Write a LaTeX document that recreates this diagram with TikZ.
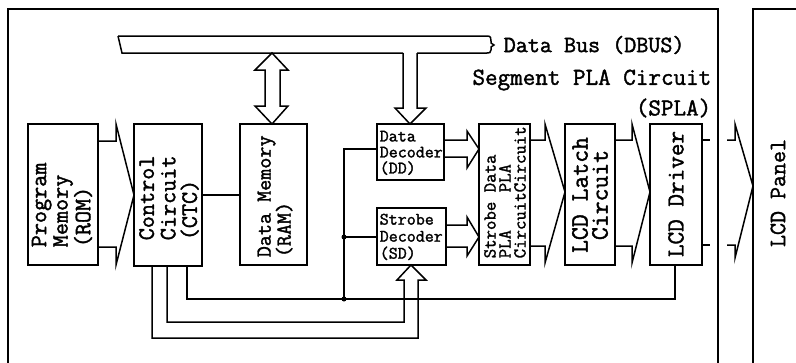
\documentclass[tikz,border=0pt]{standalone}
\usepackage{fontspec}
\newfontfamily\twf{Latin Modern Mono}[FakeBold=1.6]
\usetikzlibrary{calc}
\newcommand{\tw}[2]{\twf\fontsize{#1}{#2}\selectfont}
\tikzset{
  blk/.style={draw, inner sep=0pt, outer sep=0pt, anchor=north west},
  lbl/.style={inner sep=0pt, font=\tw{23.5}{21.5}},
  slbl/.style={inner sep=0pt, font=\tw{17.5}{16}},
  dotc/.style={fill, circle, inner sep=0pt, minimum size=5pt}
}
\begin{document}
\begin{tikzpicture}[x=1pt, y=-1pt, line width=1.5pt, line join=miter]
\clip (0,0) rectangle (796,362);
\fill[white] (0,0) rectangle (796,362);

% outer frames
\node[blk, minimum width=710pt, minimum height=420pt] (spla) at (8,9) {};
\node[blk, minimum width=100pt, minimum height=420pt] (panel) at (753,9) {};

% blocks
\node[blk, minimum width=70pt, minimum height=141pt] (rom) at (28,124) {};
\node[blk, minimum width=68pt, minimum height=142pt] (ctc) at (134,124) {};
\node[blk, minimum width=67pt, minimum height=141pt] (ram) at (240,124) {};
\node[blk, minimum width=67pt, minimum height=56pt] (dd) at (377,124) {};
\node[blk, minimum width=69pt, minimum height=57pt] (sd) at (377,208) {};
\node[blk, minimum width=51pt, minimum height=141pt] (pla) at (479,124) {};
\node[blk, minimum width=50pt, minimum height=141pt] (latch) at (565,124) {};
\node[blk, minimum width=52pt, minimum height=141pt] (driver) at (650,124) {};

% labels
\node[lbl, rotate=90, anchor=west, align=left] (romtxt) at (62,248) {Program\\Memory\\(ROM)};
\node[lbl, rotate=90, anchor=west, align=left] (ctctxt) at (169,241) {Control\\Circuit\\(CTC)};
\node[lbl, rotate=90, anchor=west, align=left, font=\tw{21.5}{20}] (ramtxt) at (275,258) {Data Memory\\(RAM)};
\node[slbl, anchor=north west, align=left] (ddtxt) at (379,130) {Data\\Decoder\\(DD)};
\node[slbl, anchor=north west, align=left, font=\tw{17.5}{17}] (sdtxt) at (379,213) {Strobe\\Decoder\\(SD)};
\node[slbl, rotate=90, anchor=west, align=left, font=\tw{18.3}{15}] (platxt) at (505,259) {Strobe\ Data\\PLA\ \ \ \ PLA\\CircuitCircuit};
\node[lbl, rotate=90, align=center, font=\tw{25}{20}] (latchtxt) at (590,195) {LCD Latch\\Circuit};
\node[lbl, rotate=90, font=\tw{24.5}{20}] (drvtxt) at (676,194) {LCD Driver};
\node[lbl, rotate=90, font=\tw{23.3}{20}] (paneltxt) at (778,193) {LCD Panel};
\node[lbl, anchor=west, font=\tw{23.4}{21}] (bustxt) at (503,45) {Data Bus (DBUS)};
\node[lbl, anchor=east, font=\tw{24.4}{21}] (splatxt) at (712,80) {Segment PLA Circuit};
\node[lbl, anchor=east, font=\tw{24.4}{21}] (splatxt2) at (712,108) {(SPLA)};

% data bus
\coordinate (busL) at (118,36);
\draw (busL) -- (487,36) .. controls (491,36) and (491,38) .. (491,41) -- (491,43) -- (494,45) -- (491,47) -- (491,50)
      .. controls (491,53) and (489,53) .. (487,53) -- (417,53);
\draw (403,53) -- (122,53) -- (busL);

% double arrow bus <-> RAM
\draw (272,53) -- (288,70) -- (280,70) -- (280,106) -- (288,106) -- (ram.north -| 272,0) -- (255,106) -- (265,106) -- (265,70) -- (255,70) -- cycle;

% bus -> DD
\draw (403,53) -- (403,108) -- (395,108) -- (dd.north -| 410,0) -- (426,108) -- (417,108) -- (417,53);

% ROM -> CTC
\draw (rom.east |- 0,141) -- (116,141) -- (116,124) -- (ctc.west |- 0,195) -- (116,265) -- (116,247) -- (rom.east |- 0,247);
% CTC -- RAM
\draw (ctc.east |- 0,195) -- (ram.west |- 0,195);

% DD -> PLA
\draw (dd.east |- 0,140) -- (467,140) -- (467,131) -- (pla.west |- 0,149) -- (467,168) -- (467,157) -- (dd.east |- 0,157);
% SD -> PLA
\draw (sd.east |- 0,225) -- (467,225) -- (467,217) -- (pla.west |- 0,237) -- (467,256) -- (467,247) -- (sd.east |- 0,247);

% PLA -> Latch
\draw (pla.east |- 0,140) -- (545,140) -- (545,124) -- (latch.west |- 0,192) -- (545,263) -- (545,246) -- (pla.east |- 0,246);
% Latch -> Driver
\draw (latch.east |- 0,140) -- (632,140) -- (632,124) -- (driver.west |- 0,192) -- (632,263) -- (632,246) -- (latch.east |- 0,246);
% Driver -> Panel
\draw (driver.east |- 0,140) -- (710,140);
\draw (driver.east |- 0,245) -- (710,245);
\draw (727,140) -- (735,140) -- (735,124) -- (panel.west |- 0,186) -- (735,258) -- (735,245) -- (727,245);

% control lines
\coordinate (j1) at (344,237);
\coordinate (j2) at (344,299);
\draw (ctc.south -| 187,0) -- (187,299) -- (j2) -- (675,299) -- (driver.south -| 675,0);
\draw (dd.west |- 0,149) -- (344,149) -- (j2);
\draw (j1) -- (sd.west |- j1);
\draw (ctc.south -| 167,0) -- (167,322) -- (404,322) -- (404,280) -- (397,280) -- (sd.south -| 411,0) -- (426,280) -- (418,280) -- (418,338) -- (152,338) -- (ctc.south -| 152,0);
\node[dotc] at (j1) {};
\node[dotc] at (j2) {};
\end{tikzpicture}
\end{document}
